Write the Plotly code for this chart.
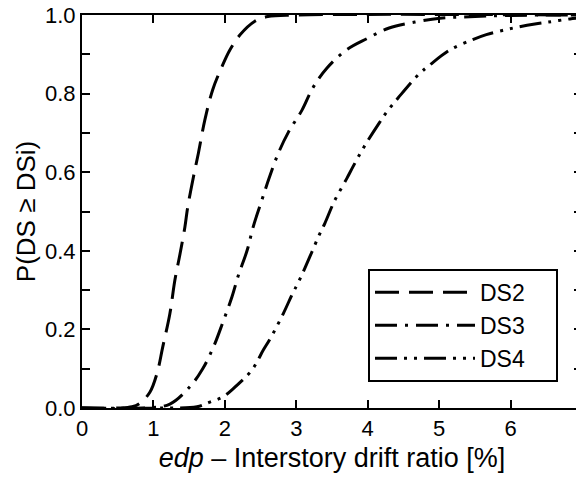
import plotly.graph_objects as go

# Values
ds2_x = [0.0, 0.5, 0.7, 0.81, 0.95, 1.05, 1.13, 1.23, 1.30, 1.37, 1.44, 1.48, 1.56, 1.63, 1.72, 1.83, 1.96, 2.07, 2.21, 2.42, 2.60, 3.0, 7.0]
ds2_p = [0.0, 0.0, 0.003, 0.012, 0.04, 0.088, 0.155, 0.24, 0.325, 0.39, 0.46, 0.511, 0.588, 0.649, 0.733, 0.81, 0.869, 0.911, 0.949, 0.984, 0.996, 1.0, 1.0]

ds3_x = [0.0, 0.9, 1.23, 1.51, 1.69, 1.84, 1.97, 2.10, 2.19, 2.31, 2.40, 2.52, 2.62, 2.75, 2.89, 3.08, 3.23, 3.43, 3.70, 3.99, 4.30, 4.66, 5.01, 5.34, 6.0, 7.0]
ds3_p = [0.0, 0.0, 0.01, 0.054, 0.10, 0.155, 0.217, 0.283, 0.338, 0.40, 0.463, 0.53, 0.585, 0.649, 0.702, 0.758, 0.814, 0.865, 0.911, 0.94, 0.967, 0.982, 0.992, 0.995, 0.999, 1.0]

ds4_x = [0.0, 1.2, 1.61, 1.79, 1.97, 2.11, 2.38, 2.54, 2.64, 2.82, 2.95, 3.03, 3.19, 3.32, 3.40, 3.53, 3.71, 3.80, 3.95, 4.16, 4.27, 4.43, 4.72, 4.87, 5.15, 5.48, 5.66, 5.99, 6.34, 6.53, 6.83, 7.0]
ds4_p = [0.0, 0.0, 0.003, 0.015, 0.028, 0.048, 0.097, 0.148, 0.178, 0.241, 0.292, 0.32, 0.385, 0.44, 0.47, 0.525, 0.585, 0.616, 0.665, 0.725, 0.754, 0.79, 0.85, 0.873, 0.911, 0.938, 0.95, 0.965, 0.977, 0.982, 0.99, 0.993]

series_names = ["DS2", "DS3", "DS4"]

x_tickvals = [0, 1, 2, 3, 4, 5, 6, 7]
x_ticktext = ["0", "1", "2", "3", "4", "5", "6", "7"]
y_tickvals = [0.0, 0.1, 0.2, 0.3, 0.4, 0.5, 0.6, 0.7, 0.8, 0.9, 1.0]
y_ticktext = ["0.0", "", "0.2", "", "0.4", "", "0.6", "", "0.8", "", "1.0"]

FONT = "Liberation Sans, Arial, sans-serif"

fig = go.Figure()
styles = [
    dict(dash="24px,10px"),
    dict(dash="22px,8px,3px,8px"),
    dict(dash="22px,7px,3px,7px,3px,7px"),
]
PAD = "\u00a0" * 4  # right padding inside the legend box
for name, xs, ps, st in zip(series_names, [ds2_x, ds3_x, ds4_x], [ds2_p, ds3_p, ds4_p], styles):
    fig.add_trace(go.Scatter(
        x=xs, y=ps, name=name + PAD, mode="lines",
        line=dict(color="black", width=3, dash=st["dash"], shape="spline", smoothing=1.0),
    ))

# the page body adds an 8px margin, so the figure is sized to fit inside it
fig.update_layout(
    width=576, height=469,
    margin=dict(l=74, r=2, t=7, b=69, autoexpand=False),
    paper_bgcolor="white", plot_bgcolor="white",
    font=dict(family=FONT, size=22, color="black"),
    showlegend=True,
    legend=dict(
        x=0.572, y=0.354, xanchor="left", yanchor="top",
        bordercolor="black", borderwidth=2, bgcolor="white",
        font=dict(family=FONT, size=23, color="black"),
        itemwidth=100,
    ),
)
fig.update_xaxes(
    range=[0, 7], tickvals=x_tickvals, ticktext=x_ticktext,
    showline=True, linecolor="black", linewidth=2, mirror="ticks",
    ticks="inside", ticklen=8, tickwidth=1.5, tickcolor="black",
    showgrid=False, zeroline=False, automargin=False,
    ticklabeloverflow="allow",
    tickfont=dict(size=22),
    title=dict(text="<i>edp</i> – Interstory drift ratio [%]", font=dict(size=27), standoff=8),
)
fig.update_yaxes(
    range=[0, 1], tickvals=y_tickvals, ticktext=y_ticktext,
    showline=True, linecolor="black", linewidth=2, mirror="ticks",
    ticks="inside", ticklen=8, tickwidth=1.5, tickcolor="black",
    showgrid=False, zeroline=False, automargin=False,
    ticklabeloverflow="allow",
    tickfont=dict(size=22),
    title=dict(text="P(DS ≥ DSi)", font=dict(size=26), standoff=2),
)

fig.write_html("out.html")
